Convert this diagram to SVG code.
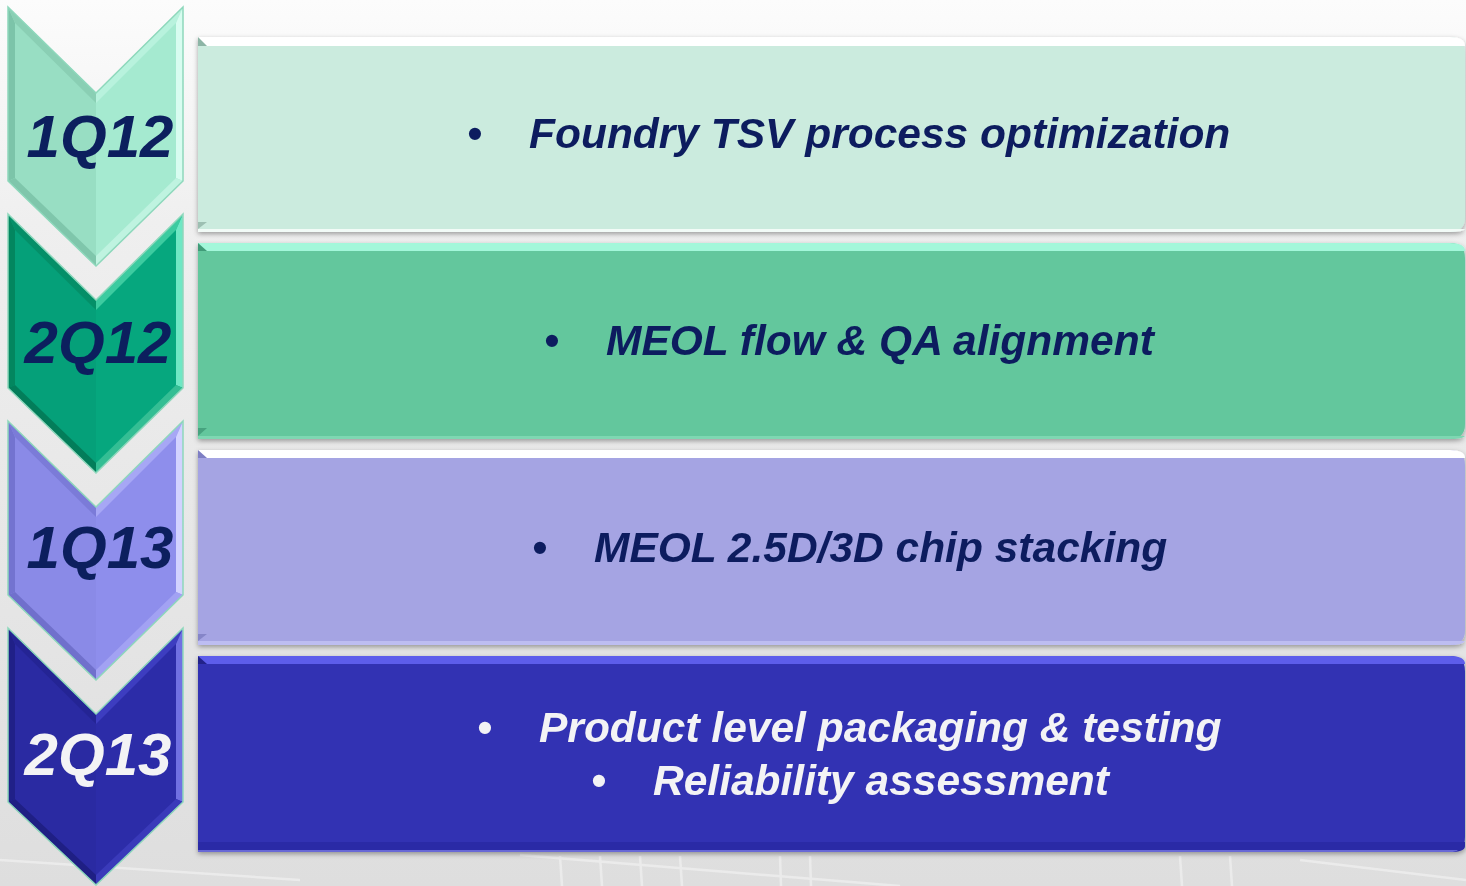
<svg xmlns="http://www.w3.org/2000/svg" width="1466" height="886" viewBox="0 0 1466 886">
  <defs>
    <linearGradient id="bg" x1="0" y1="0" x2="0" y2="1">
      <stop offset="0" stop-color="#fcfcfc"/>
      <stop offset="0.25" stop-color="#efefef"/>
      <stop offset="1" stop-color="#dedede"/>
    </linearGradient>
    <filter id="shadow" x="-5%" y="-10%" width="110%" height="125%">
      <feDropShadow dx="0" dy="2" stdDeviation="2.5" flood-color="#000" flood-opacity="0.35"/>
    </filter>
    <style>
      .lbl { font-family: "Liberation Sans", Arial, sans-serif; font-weight: bold; font-style: italic; font-size: 60px; text-anchor: middle; }
      .txt { font-family: "Liberation Sans", Arial, sans-serif; font-weight: bold; font-style: italic; font-size: 42.5px; }
      .navy { fill: #0C1F5E; }
      .white { fill: #F3F3F5; }
      .outline { fill: none; stroke: #8ED8BC; stroke-width: 1.5; stroke-linejoin: miter; }
    </style>
  </defs>

  <!-- background -->
  <rect x="0" y="0" width="1466" height="886" fill="url(#bg)"/>
  <g stroke="#f4f4f4" stroke-width="2.5" fill="none" opacity="0.6">
    <path d="M0,860 L300,880"/>
    <path d="M520,855 L900,886"/>
    <path d="M560,856 L562,886"/>
    <path d="M600,856 L602,886"/>
    <path d="M640,856 L642,886"/>
    <path d="M680,856 L682,886"/>
    <path d="M780,856 L781,886"/>
    <path d="M810,856 L811,886"/>
    <path d="M1180,856 L1182,886"/>
    <path d="M1230,856 L1232,886"/>
    <path d="M1300,860 L1466,880"/>
  </g>

  <!-- task boxes -->
  <g id="task-1q12" filter="url(#shadow)">
    <path d="M198,37 H1450 Q1465,37 1465,52 V217 Q1465,232 1450,232 H198 Z" fill="#CBEBDE"/>
    <path d="M198,37 H1450 Q1465,37 1465,46 H198 Z" fill="#FFFFFF"/>
    <path d="M198,229 H1465 Q1463,232 1450,232 H198 Z" fill="#F2FBF7"/>
    <polygon points="198,37 207,46 198,46" fill="#8DB5A6"/>
    <polygon points="198,222 207,222 198,229" fill="#9DBFB2"/>
    <text class="txt navy" x="467" y="148">•</text>
    <text class="txt navy" x="529" y="148">Foundry TSV process optimization</text>
  </g>
  <g id="task-2q12" filter="url(#shadow)">
    <path d="M198,243 H1450 Q1465,243 1465,258 V424 Q1465,439 1450,439 H198 Z" fill="#63C79D"/>
    <path d="M198,243 H1450 Q1465,243 1465,251 H198 Z" fill="#A3F7DA"/>
    <path d="M198,436 H1465 Q1463,439 1450,439 H198 Z" fill="#7ED7B2"/>
    <polygon points="198,243 207,251 198,251" fill="#3F9B78"/>
    <polygon points="198,428 207,428 198,436" fill="#46A37F"/>
    <text class="txt navy" x="544" y="355">•</text>
    <text class="txt navy" x="606" y="355">MEOL flow &amp; QA alignment</text>
  </g>
  <g id="task-1q13" filter="url(#shadow)">
    <path d="M198,450 H1450 Q1465,450 1465,465 V630 Q1465,645 1450,645 H198 Z" fill="#A5A4E3"/>
    <path d="M198,450 H1450 Q1465,450 1465,458 H198 Z" fill="#FFFFFF"/>
    <path d="M198,641 H1465 Q1463,645 1450,645 H198 Z" fill="#BDBDF2"/>
    <polygon points="198,450 207,458 198,458" fill="#7E7EC4"/>
    <polygon points="198,634 207,634 198,641" fill="#8585C8"/>
    <text class="txt navy" x="532" y="562">•</text>
    <text class="txt navy" x="594" y="562">MEOL 2.5D/3D chip stacking</text>
  </g>
  <g id="task-2q13" filter="url(#shadow)">
    <path d="M198,656 H1450 Q1465,656 1465,671 V837 Q1465,852 1450,852 H198 Z" fill="#3333B3"/>
    <path d="M198,656 H1450 Q1465,656 1465,664 H198 Z" fill="#5D5DEB"/>
    <path d="M198,842 H1465 V846 Q1465,852 1450,852 H198 Z" fill="#2A2AA6"/>
    <path d="M198,850 H1458 Q1456,852 1450,852 H198 Z" fill="#6767D6"/>
    <polygon points="198,656 207,664 198,664" fill="#22228A"/>
    <text class="txt white" x="477" y="742">•</text>
    <text class="txt white" x="539" y="742">Product level packaging &amp; testing</text>
    <text class="txt white" x="591" y="795">•</text>
    <text class="txt white" x="653" y="795">Reliability assessment</text>
  </g>

  <!-- chevrons -->
  <g id="chevron-1q12">
    <polygon points="8,7 96,93 183,7 183,181 96,266 8,181" fill="#A5EAD0"/>
    <polygon points="8,7 96,93 96,266 8,181" fill="#98DEC3"/>
    <polygon points="8,7 15,23 15,178 8,181" fill="#7CC4A9"/>
    <polygon points="8,7 96,93 96,103 15,23" fill="#8ACFB4"/>
    <polygon points="96,93 183,7 176,23 96,103" fill="#B8F2DD"/>
    <polygon points="183,7 183,181 176,178 176,23" fill="#D8FCF0"/>
    <polygon points="183,181 96,266 96,256 176,178" fill="#BFF3E0"/>
    <polygon points="8,181 15,178 96,256 96,266" fill="#7FC6AB"/>
    <polygon points="8,7 96,93 183,7 183,181 96,266 8,181" class="outline" stroke="#7FCFB2"/>
    <text class="lbl navy" x="100" y="157">1Q12</text>
  </g>
  <g id="chevron-2q12">
    <polygon points="8,214 96,300 183,214 183,388 96,473 8,388" fill="#06A77E"/>
    <polygon points="8,214 96,300 96,473 8,388" fill="#05A079"/>
    <polygon points="8,214 15,230 15,385 8,388" fill="#03865F"/>
    <polygon points="8,214 96,300 96,310 15,230" fill="#048F68"/>
    <polygon points="96,300 183,214 176,230 96,310" fill="#3CCBA0"/>
    <polygon points="183,214 183,388 176,385 176,230" fill="#6FE7C4"/>
    <polygon points="183,388 96,473 96,463 176,385" fill="#34BE94"/>
    <polygon points="8,388 15,385 96,463 96,473" fill="#037D5A"/>
    <polygon points="8,214 96,300 183,214 183,388 96,473 8,388" class="outline"/>
    <text class="lbl navy" x="98" y="363">2Q12</text>
  </g>
  <g id="chevron-1q13">
    <polygon points="8,421 96,507 183,421 183,595 96,680 8,595" fill="#8E8EEC"/>
    <polygon points="8,421 96,507 96,680 8,595" fill="#8A8AE7"/>
    <polygon points="8,421 15,437 15,592 8,595" fill="#7373D0"/>
    <polygon points="8,421 96,507 96,517 15,437" fill="#7B7BD8"/>
    <polygon points="96,507 183,421 176,437 96,517" fill="#A7A7F5"/>
    <polygon points="183,421 183,595 176,592 176,437" fill="#D2D2FF"/>
    <polygon points="183,595 96,680 96,670 176,592" fill="#A2A2F3"/>
    <polygon points="8,595 15,592 96,670 96,680" fill="#7070CC"/>
    <polygon points="8,421 96,507 183,421 183,595 96,680 8,595" class="outline"/>
    <text class="lbl navy" x="100" y="568">1Q13</text>
  </g>
  <g id="chevron-2q13">
    <polygon points="8,628 96,714 183,628 183,802 96,885 8,802" fill="#2C2CA8"/>
    <polygon points="8,628 96,714 96,885 8,802" fill="#2A2AA2"/>
    <polygon points="8,628 15,644 15,799 8,802" fill="#202088"/>
    <polygon points="8,628 96,714 96,724 15,644" fill="#242494"/>
    <polygon points="96,714 183,628 176,644 96,724" fill="#3D3DC0"/>
    <polygon points="183,628 183,802 176,799 176,644" fill="#7070E2"/>
    <polygon points="183,802 96,885 96,875 176,799" fill="#3A3ABA"/>
    <polygon points="8,802 15,799 96,875 96,885" fill="#1F1F84"/>
    <polygon points="8,628 96,714 183,628 183,802 96,885 8,802" class="outline"/>
    <text class="lbl white" x="98" y="775">2Q13</text>
  </g>

  <g id="connectors"/>
</svg>
